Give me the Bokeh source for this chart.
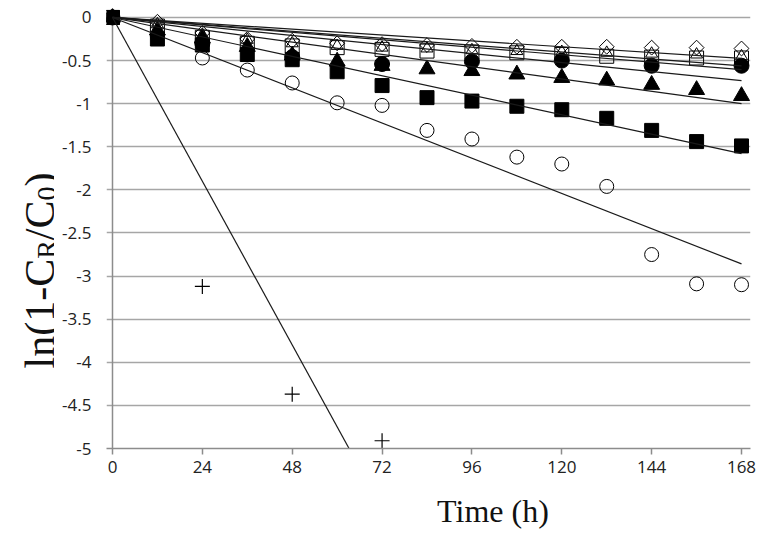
import numpy as np
from bokeh.plotting import figure
from bokeh.layouts import row
from bokeh.models import FixedTicker, Label, Range1d, NumeralTickFormatter, Title
from bokeh.embed import file_html
from bokeh.resources import INLINE

# ---------------- data ----------------
hours = [0, 12, 24, 36, 48, 60, 72, 84, 96, 108, 120, 132, 144, 156, 168]
hours_24 = [0, 24, 48, 72, 96, 120, 144, 168]
hours_plus = [0, 24, 48, 72]

open_diamond = [0, -0.05, -0.18, -0.25, -0.27, -0.30, -0.31, -0.32, -0.33, -0.34, -0.34, -0.34, -0.35, -0.35, -0.36]
open_triangle = [0, -0.08, -0.20, -0.26, -0.30, -0.33, -0.35, -0.36, -0.38, -0.39, -0.40, -0.41, -0.42, -0.43, -0.45]
open_square = [0, -0.10, -0.23, -0.30, -0.33, -0.35, -0.37, -0.39, -0.40, -0.41, -0.43, -0.45, -0.46, -0.47, -0.47]
filled_circle = [0, -0.30, -0.46, -0.54, -0.51, -0.50, -0.56, -0.56]
filled_triangle = [0, -0.15, -0.24, -0.34, -0.44, -0.51, -0.56, -0.60, -0.62, -0.66, -0.70, -0.73, -0.78, -0.84, -0.91]
filled_square = [0, -0.25, -0.32, -0.43, -0.49, -0.63, -0.79, -0.93, -0.97, -1.03, -1.07, -1.17, -1.31, -1.44, -1.49]
open_circle = [0, -0.22, -0.47, -0.61, -0.76, -0.99, -1.02, -1.31, -1.41, -1.62, -1.70, -1.96, -2.75, -3.09, -3.10]
plus_series = [0, -3.12, -4.37, -4.91]

x_ticks = [0, 24, 48, 72, 96, 120, 144, 168]
y_ticks = [0, -0.5, -1, -1.5, -2, -2.5, -3, -3.5, -4, -4.5, -5]
y_tick_labels = ["0", "-0.5", "-1", "-1.5", "-2", "-2.5", "-3", "-3.5", "-4", "-4.5", "-5"]

x_title = "Time (h)"
# y title ln(1-C_R/C_0): (text, is_subscript)
y_title_pieces = [("ln(1-C", False), ("R", True), ("/C", False), ("0", True), (")", False)]

# ---------------- layout constants ----------------
W_TOTAL, H_TOTAL = 764, 544
LABEL_W = 54
BORDER_TOP, BORDER_BOTTOM = 8, 96
Y_MIN, Y_MAX = -5, 0

GRID = "#a6a6a6"
AXIS = "#8c8c8c"

# ---------------- main figure ----------------
p = figure(width=W_TOTAL - LABEL_W, height=H_TOTAL, output_backend="svg", toolbar_location=None,
           x_range=Range1d(-1.6, 170.4), y_range=Range1d(Y_MIN, 0.104),
           min_border_left=106 - LABEL_W, min_border_right=14,
           min_border_top=BORDER_TOP, min_border_bottom=BORDER_BOTTOM)
p.outline_line_color = None
p.background_fill_color = "white"
p.border_fill_color = "white"

p.xgrid.grid_line_color = None
p.ygrid.ticker = FixedTicker(ticks=y_ticks)
p.ygrid.grid_line_color = GRID
p.ygrid.grid_line_width = 1.5

p.xaxis.ticker = FixedTicker(ticks=x_ticks)
p.xaxis.axis_line_color = AXIS
p.xaxis.axis_line_width = 1.5
p.xaxis.major_tick_line_color = AXIS
p.xaxis.major_tick_line_width = 1.5
p.xaxis.major_tick_out = 6
p.xaxis.major_tick_in = 0
p.xaxis.minor_tick_line_color = None
p.xaxis.major_label_standoff = 6
p.xaxis.major_label_text_font = "Open Sans"
p.xaxis.major_label_text_font_size = "17px"
p.xaxis.major_label_text_color = "#222222"

p.yaxis.ticker = FixedTicker(ticks=y_ticks)
p.yaxis.formatter = NumeralTickFormatter(format="0.[0]")
p.yaxis.major_label_overrides = {float(t): s for t, s in zip(y_ticks, y_tick_labels)}
p.yaxis.axis_line_color = None
p.yaxis.major_tick_line_color = None
p.yaxis.minor_tick_line_color = None
p.yaxis.major_tick_out = 0
p.yaxis.major_tick_in = 0
p.yaxis.major_label_standoff = 15
p.yaxis.major_label_text_font = "Open Sans"
p.yaxis.major_label_text_font_size = "17px"
p.yaxis.major_label_text_color = "#222222"

# vertical axis line at x = 0
p.line([0, 0], [Y_MIN, Y_MAX], line_color=AXIS, line_width=1.5)

# markers
p.scatter(hours, open_circle, marker="circle", size=14, fill_color=None, line_color="black", line_width=1)
p.scatter(hours_plus, plus_series, marker="cross", size=15, line_color="black", line_width=1.2)
p.scatter(hours, open_diamond, marker="square", angle=np.pi / 4, size=10.5, fill_color=None,
          line_color="black", line_width=1)
p.scatter(hours, open_square, marker="square", size=14, fill_color=None, line_color="black", line_width=1)
p.scatter(hours, open_triangle, marker="triangle", size=12, fill_color=None, line_color="black", line_width=1)
p.scatter(hours, filled_triangle, marker="triangle", size=16, fill_color="black", line_color="black")
p.scatter(hours_24, filled_circle, marker="circle", size=15, fill_color="black", line_color="black")
p.scatter(hours, filled_square, marker="square", size=14, fill_color="black", line_color="black")

# linear trendlines forced through the origin
series = [(hours, open_diamond), (hours, open_triangle), (hours, open_square),
          (hours_24, filled_circle), (hours, filled_triangle), (hours, filled_square),
          (hours, open_circle), (hours_plus, plus_series)]
for xs, ys in series:
    xa = np.array(xs, dtype=float)
    ya = np.array(ys, dtype=float)
    slope = float((xa * ya).sum() / (xa * xa).sum())
    xe = np.array([0.0, xa.max()])
    p.line(xe, slope * xe, line_color="#1a1a1a", line_width=1.2)

# x title (below the axis, shifted right as in the reference)
XT_SIZE = 32
xt_width = 3.527 * XT_SIZE
xt_center_page = 493
p.add_layout(Title(text=x_title, align="left", offset=xt_center_page - xt_width / 2 - 106,
                   text_font="Liberation Serif", text_font_size=f"{XT_SIZE}px",
                   text_font_style="normal", text_color="#111111", standoff=31), "below")

# ---------------- narrow figure holding the rotated y title ----------------
# its frame is aligned with the main frame (page y 8..448); data y == page y
q = figure(width=LABEL_W, height=H_TOTAL, output_backend="svg", toolbar_location=None,
           x_range=Range1d(0, LABEL_W), y_range=Range1d(H_TOTAL - BORDER_BOTTOM, BORDER_TOP),
           x_axis_location=None, y_axis_location=None,
           min_border_left=0, min_border_right=0,
           min_border_top=BORDER_TOP, min_border_bottom=BORDER_BOTTOM)
q.outline_line_color = None
q.grid.grid_line_color = None
q.background_fill_color = "white"
q.border_fill_color = "white"

F, S = 42, 28
METRIC = {"l": .278, "n": .5, "(": .333, "1": .5, "-": .333, "C": .667, "R": .667,
          "/": .278, "0": .5, ")": .333}
sizes = [S if sub else F for _, sub in y_title_pieces]
widths = [sum(METRIC[c] for c in t) * sz for (t, _), sz in zip(y_title_pieces, sizes)]
total = sum(widths)
center_page_y = 270
baseline_x = 39
pos = center_page_y + total / 2          # page y where the text starts (bottom)
for (t, sub), sz, w in zip(y_title_pieces, sizes, widths):
    q.add_layout(Label(x=baseline_x + (7 if sub else 0), y=pos, text=t, angle=np.pi / 2,
                       text_font="Liberation Serif", text_font_size=f"{sz}px",
                       text_align="left", text_baseline="alphabetic", text_color="#111111"))
    pos -= w

layout = row(q, p, spacing=0)
open("out.html", "w").write(file_html(layout, INLINE))
